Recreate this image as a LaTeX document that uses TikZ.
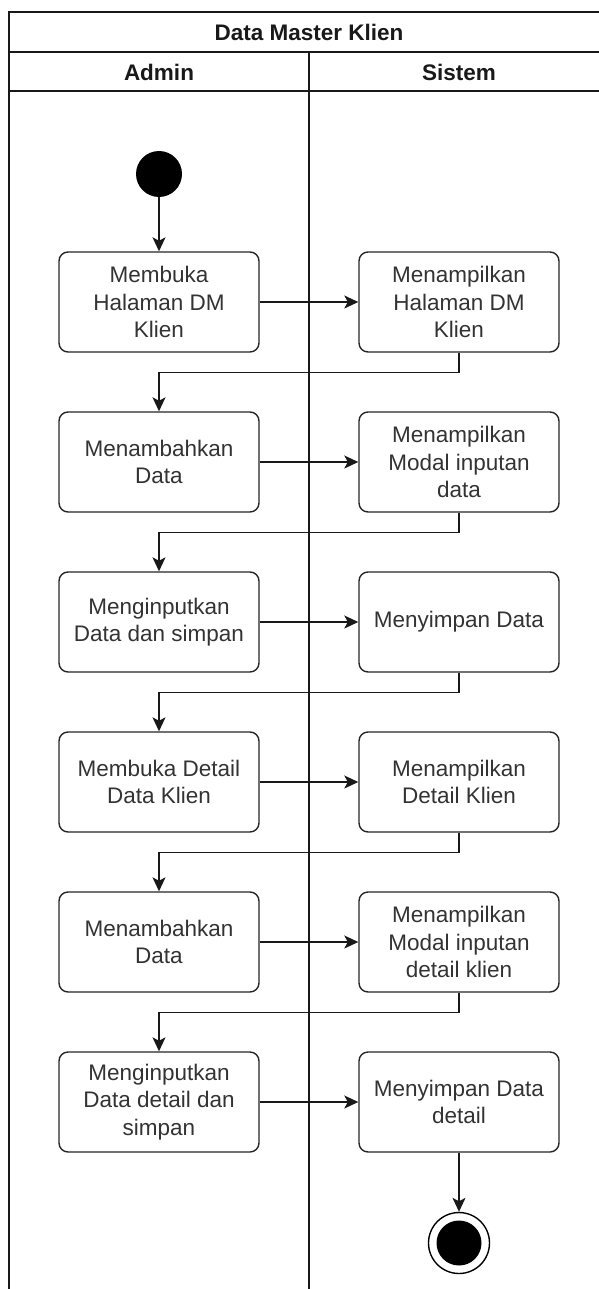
\documentclass[tikz,border=0pt]{standalone}
\usepackage{fontspec}
\setmainfont{Liberation Sans}
\usetikzlibrary{arrows.meta}
\definecolor{txt}{RGB}{51,51,51}
\tikzset{
  act/.style={draw=black!85, line width=1.4pt, rounded corners=9pt, fill=white,
    minimum width=200pt, minimum height=100pt, align=center, text=txt,
    font=\fontsize{22.5}{27.5}\selectfont, inner sep=2pt},
  flow/.style={line width=1.4pt, draw=black!90, -{Stealth[length=14pt,width=13pt,inset=3.5pt]}},
  lane/.style={line width=1.4pt, draw=black!90},
  hdr/.style={font=\fontsize{22.5}{27}\selectfont\bfseries, text=black!90},
}
\begin{document}
\begin{tikzpicture}[x=1pt,y=-1pt]
\useasboundingbox (0,0) rectangle (599,1289);
\begin{scope}
\clip (0,0) rectangle (599,1289);
\draw[lane] (9,1300) -- (9,12) -- (612,12);
\draw[lane] (9,52) -- (612,52);
\draw[lane] (9,91) -- (612,91);
\draw[lane] (309,52) -- (309,1300);
\end{scope}
\node[hdr] (title) at (309,32) {Data Master Klien};
\node[hdr] (hadmin) at (159,72) {Admin};
\node[hdr] (hsistem) at (459,72) {Sistem};

\fill (159,174) circle (23pt);
\node[circle, minimum size=46pt, inner sep=0pt] (start) at (159,174) {};

\node[act] (l1) at (159,302) {Membuka\\Halaman DM\\Klien};
\node[act] (r1) at (459,302) {Menampilkan\\Halaman DM\\Klien};
\node[act] (l2) at (159,462) {Menambahkan\\Data};
\node[act] (r2) at (459,462) {Menampilkan\\Modal inputan\\data};
\node[act] (l3) at (159,622) {Menginputkan\\Data dan simpan};
\node[act] (r3) at (459,622) {Menyimpan Data};
\node[act] (l4) at (159,782) {Membuka Detail\\Data Klien};
\node[act] (r4) at (459,782) {Menampilkan\\Detail Klien};
\node[act] (l5) at (159,942) {Menambahkan\\Data};
\node[act] (r5) at (459,942) {Menampilkan\\Modal inputan\\detail klien};
\node[act] (l6) at (159,1102) {Menginputkan\\Data detail dan\\simpan};
\node[act] (r6) at (459,1102) {Menyimpan Data\\detail};

\node[circle, draw=black, line width=1.4pt, fill=white, minimum size=61pt, inner sep=0pt] (end) at (459,1243) {};
\fill (459,1243) circle (22.5pt);

\draw[flow] (start) -- (l1);
\foreach \i in {1,...,6} {
  \draw[flow] (l\i) -- (r\i);
}
\foreach \i/\j in {1/2,2/3,3/4,4/5,5/6} {
  \draw[flow] (r\i.south) -- ++(0,20) -| (l\j.north);
}
\draw[flow] (r6) -- (end);
\end{tikzpicture}
\end{document}
